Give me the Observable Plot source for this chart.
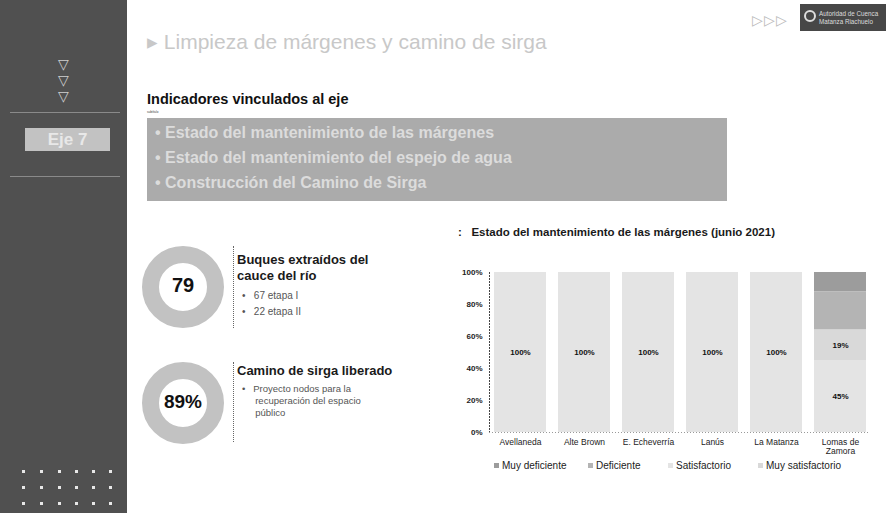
<!DOCTYPE html>
<html>
<head>
<meta charset="utf-8">
<script src="https://cdn.jsdelivr.net/npm/d3@7"></script>
<script src="https://cdn.jsdelivr.net/npm/@observablehq/plot@0.6"></script>
<style>
  html, body { margin: 0; padding: 0; background: #fff; }
  #page { position: relative; width: 886px; height: 513px; overflow: hidden; font-family: "Liberation Sans", Arial, sans-serif; background: #fff; }
  .abs { position: absolute; white-space: nowrap; }
  #sidebar { left: 0; top: 0; width: 127px; height: 513px; background: #505050; }
  #eje { left: 25px; top: 128px; width: 85px; height: 23px; background: #c2c2c2; color: #e8e8e8; font-weight: bold; font-size: 17px; text-align: center; line-height: 23px; }
  .sideDot { position: absolute; width: 3px; height: 3px; background: #e8e8e8; }
  .sideLine { position: absolute; left: 10px; width: 110px; height: 1px; background: #8a8a8a; }
  #title { left: 147px; top: 30px; font-size: 21px; color: #c8c8c8; }
  #logo { left: 800px; top: 4px; width: 86px; height: 27px; background: #474747; color: #ddd; font-size: 6.3px; line-height: 8px; }
  #indic { left: 147px; top: 91px; font-size: 14.5px; font-weight: bold; color: #111; }
  #indicSub { left: 147px; top: 110px; font-size: 3px; color: #333; }
  #band { left: 147px; top: 118px; width: 580px; height: 83px; background: #ababab; }
  .bandLine { position: absolute; left: 8px; font-size: 16px; font-weight: bold; color: #dcdcdc; }
  .ring { position: absolute; border-radius: 50%; box-sizing: border-box; border: 17px solid #c2c2c2; }
  .ringVal { position: absolute; font-weight: bold; color: #111; text-align: center; }
  .sep { position: absolute; width: 0; border-left: 1px dotted #666; }
  .hdr { font-size: 13px; font-weight: bold; color: #1a1a1a; line-height: 16px; }
  .bul { font-size: 9.5px; color: #555; line-height: 12px; }
  #chartTitle { left: 458px; top: 226px; font-size: 11.5px; font-weight: bold; color: #1a1a1a; }
  #chart { left: 440px; top: 255px; }
  #legend { left: 494px; top: 460px; font-size: 10px; color: #222; }
  .lg { position: absolute; white-space: nowrap; }
  .sw { display: inline-block; width: 5px; height: 5px; margin-right: 3px; vertical-align: 1px; }
</style>
</head>
<body>
<div id="page">
  <div id="sidebar" class="abs"></div>
  <div id="eje" class="abs">Eje 7</div>
  <div id="title" class="abs">▸ Limpieza de márgenes y camino de sirga</div>
  <div class="abs" style="left:752px;top:12px;font-size:14px;color:#bbb;letter-spacing:1px;">▷▷▷</div>
  <div id="logo" class="abs"><div style="position:absolute;left:4px;top:6px;width:12px;height:12px;border:2px solid #ddd;border-radius:50%;box-sizing:border-box;"></div><div style="position:absolute;left:19px;top:6px;">Autoridad de Cuenca<br>Matanza Riachuelo</div></div>
  <div id="indic" class="abs">Indicadores vinculados al eje</div>
  <div id="indicSub" class="abs">subtítulo</div>
  <div id="band" class="abs">
    <div class="bandLine" style="top:6px;">• Estado del mantenimiento de las márgenes</div>
    <div class="bandLine" style="top:31px;">• Estado del mantenimiento del espejo de agua</div>
    <div class="bandLine" style="top:56px;">• Construcción del Camino de Sirga</div>
  </div>

  <div class="ring" style="left:142px;top:246px;width:82px;height:82px;"></div>
  <div class="ringVal abs" style="left:142px;top:274px;width:82px;font-size:20px;">79</div>
  <div class="ring" style="left:142px;top:362px;width:82px;height:82px;"></div>
  <div class="ringVal abs" style="left:142px;top:391px;width:82px;font-size:19px;">89%</div>
  <div class="sep" style="left:233px;top:246px;height:82px;"></div>
  <div class="sep" style="left:233px;top:362px;height:80px;"></div>

  <div class="abs hdr" style="left:237px;top:252px;">Buques extraídos del<br>cauce del río</div>
  <div class="abs bul" style="left:242px;top:290px;font-size:10px;">•&nbsp;&nbsp; 67 etapa I</div>
  <div class="abs bul" style="left:242px;top:306px;font-size:10px;">•&nbsp;&nbsp; 22 etapa II</div>
  <div class="abs hdr" style="left:237px;top:363px;">Camino de sirga liberado</div>
  <div class="abs bul" style="left:242px;top:383px;">•&nbsp;&nbsp; Proyecto nodos para la<br>&nbsp;&nbsp;&nbsp;&nbsp; recuperación del espacio<br>&nbsp;&nbsp;&nbsp;&nbsp; público</div>

  <div id="chartTitle" class="abs">:&nbsp;&nbsp; Estado del mantenimiento de las márgenes (junio 2021)</div>
  <div id="chart" class="abs"></div>
  <div id="legend" class="abs"></div>
</div>
<script>
// ---- data ----
const municipios = ["Avellaneda", "Alte Brown", "E. Echeverría", "Lanús", "La Matanza", "Lomas de\nZamora"];
const categorias = ["Muy deficiente", "Deficiente", "Satisfactorio", "Muy satisfactorio"];
const muyDeficiente = [0, 0, 0, 0, 0, 12];
const deficiente = [0, 0, 0, 0, 0, 24];
const satisfactorio = [100, 100, 100, 100, 100, 45];
const muySatisfactorio = [0, 0, 0, 0, 0, 19];
const yTicks = [0, 20, 40, 60, 80, 100];

// ---- sidebar decorations ----
const page = document.getElementById("page");
[112, 176].forEach(y => { const l = document.createElement("div"); l.className = "sideLine"; l.style.top = y + "px"; page.appendChild(l); });
[70, 86, 102].forEach(y => {
  const t = document.createElement("div"); t.className = "abs";
  t.style.cssText = `left:58px;top:${y - 14}px;font-size:14px;color:#cfcfcf;`; t.textContent = "▽"; page.appendChild(t);
});
[470, 486, 502].forEach(y => [22, 40, 58, 75, 92, 109].forEach(x => {
  const d = document.createElement("div"); d.className = "sideDot"; d.style.left = x + "px"; d.style.top = y + "px"; page.appendChild(d);
}));

// ---- chart ----
const serie = { "Muy deficiente": muyDeficiente, "Deficiente": deficiente, "Satisfactorio": satisfactorio, "Muy satisfactorio": muySatisfactorio };
const rows = [];
categorias.forEach(c => municipios.forEach((m, i) => rows.push({ municipio: m, categoria: c, valor: serie[c][i] })));
const colores = ["#9c9c9c", "#b4b4b4", "#e4e4e4", "#d9d9d9"];
const orden = ["Satisfactorio", "Muy satisfactorio", "Deficiente", "Muy deficiente"];
const claros = new Set(["Satisfactorio", "Muy satisfactorio"]);

const chart = Plot.plot({
  width: 446,
  height: 205,
  marginLeft: 49,
  marginRight: 16,
  marginTop: 17,
  marginBottom: 28,
  style: { fontFamily: "Liberation Sans, Arial, sans-serif", background: "transparent" },
  x: { domain: municipios, paddingInner: 0.19, paddingOuter: 0.05, label: null },
  y: { domain: [0, 100], label: null },
  color: { domain: categorias, range: colores },
  marks: [
    Plot.barY(rows, Plot.stackY({ order: orden }, { x: "municipio", y: "valor", fill: "categoria" })),
    Plot.text(rows.filter(d => d.valor > 0 && claros.has(d.categoria)), Plot.stackY({ order: orden }, {
      x: "municipio", y: "valor", z: "categoria", text: d => d.valor + "%",
      fontSize: 8, fontWeight: "bold", fill: "#111"
    })),
    Plot.axisY({ ticks: yTicks, tickFormat: d => d + "%", tickSize: 0, tickPadding: 7, fontSize: 8, fontWeight: "bold", fill: "#222" }),
    Plot.axisX({ tickSize: 0, tickPadding: 6, fontSize: 8.5, fill: "#222", lineHeight: 1.05 }),
    Plot.frame({ anchor: "left", stroke: "#444", strokeDasharray: "1,2" }),
    Plot.ruleY([0], { stroke: "#999", strokeDasharray: "1,2" })
  ]
});
document.getElementById("chart").appendChild(chart);

// ---- legend ----
const legend = document.getElementById("legend");
const lx = [0, 94, 174, 264];
categorias.forEach((c, i) => {
  const s = document.createElement("div"); s.className = "lg"; s.style.left = lx[i] + "px"; s.style.top = "0px";
  s.innerHTML = `<span class="sw" style="background:${colores[i]}"></span>${c}`;
  legend.appendChild(s);
});
</script>
</body>
</html>
